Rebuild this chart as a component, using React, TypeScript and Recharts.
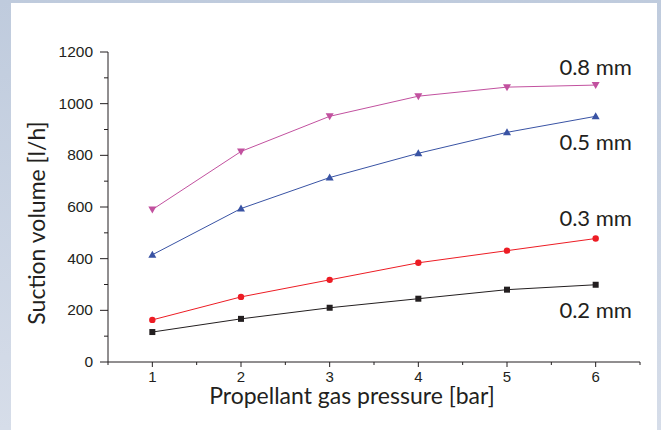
import React from "react";
import { LineChart, Line, XAxis, YAxis, Label, LabelList } from "recharts";

// 読み取り値
const pressures = [1, 2, 3, 4, 5, 6];
const s02 = [116, 167, 210, 245, 280, 299];
const s03 = [163, 252, 318, 384, 431, 478];
const s05 = [415, 594, 714, 808, 889, 951];
const s08 = [590, 815, 951, 1029, 1064, 1072];

const xTicks = [0.5, 1, 1.5, 2, 2.5, 3, 3.5, 4, 4.5, 5, 5.5, 6, 6.5];
const yTicks = [0, 100, 200, 300, 400, 500, 600, 700, 800, 900, 1000, 1100, 1200];

const data = pressures.map((p, i) => ({
  p,
  s02: s02[i],
  s03: s03[i],
  s05: s05[i],
  s08: s08[i],
}));

const INK = "#231f20";
const TICK_FONT = "'Liberation Sans', Arial, sans-serif";
const TITLE_FONT = "Lato, 'Open Sans', sans-serif";

// x軸の目盛り (整数だけラベル)
const XTick = (props: any) => {
  const { x, y, payload } = props;
  const major = Number.isInteger(payload.value);
  return (
    <g>
      <line x1={x} x2={x} y1={y} y2={y + (major ? 5 : 3)} stroke={INK} strokeWidth={1} />
      {major && (
        <text x={x} y={y + 20} textAnchor="middle" fontSize={15} fill={INK} fontFamily={TICK_FONT}>
          {payload.value}
        </text>
      )}
    </g>
  );
};

// y軸の目盛り (200ごとにラベル)
const YTick = (props: any) => {
  const { x, y, payload } = props;
  const major = payload.value % 200 === 0;
  return (
    <g>
      <line x1={x} x2={x - (major ? 8 : 4)} y1={y} y2={y} stroke={INK} strokeWidth={1} />
      {major && (
        <text x={x - 15} y={y + 5} textAnchor="end" fontSize={15.5} fill={INK} fontFamily={TICK_FONT}>
          {payload.value}
        </text>
      )}
    </g>
  );
};

const square = (color: string) => (p: any) => (
  <rect key={p.index} x={p.cx - 3} y={p.cy - 3} width={6} height={6} fill={color} />
);
const circle = (color: string) => (p: any) => (
  <circle key={p.index} cx={p.cx} cy={p.cy} r={3.2} fill={color} />
);
const triUp = (color: string) => (p: any) => (
  <path key={p.index} d={`M${p.cx},${p.cy - 4} L${p.cx + 4},${p.cy + 3} L${p.cx - 4},${p.cy + 3} Z`} fill={color} />
);
const triDown = (color: string) => (p: any) => (
  <path key={p.index} d={`M${p.cx},${p.cy + 4} L${p.cx + 4},${p.cy - 3} L${p.cx - 4},${p.cy - 3} Z`} fill={color} />
);

// 最後の点の上下にシリーズ名
const endLabel = (text: string, dy: number) => (p: any) => {
  if (p.index !== pressures.length - 1) return null;
  return (
    <text x={p.x} y={p.y + dy} textAnchor="middle" fontSize={22} fill={INK} fontFamily={TITLE_FONT}>
      {text}
    </text>
  );
};

export default function App() {
  return (
    <div
      style={{
        position: "fixed",
        left: 0,
        top: 0,
        width: 661,
        height: 430,
        background: "linear-gradient(#bfcbdd, #d6dde9)",
      }}
    >
      <div
        style={{
          position: "absolute",
          left: 11,
          top: 3,
          width: 646,
          height: 427,
          background: "#fff",
        }}
      >
        <LineChart
          width={646}
          height={427}
          data={data}
          margin={{ top: 49, right: 17, left: 0, bottom: 0 }}
        >
          <XAxis
            dataKey="p"
            type="number"
            domain={[0.5, 6.5]}
            ticks={xTicks}
            interval={0}
            height={68}
            tick={<XTick />}
            tickLine={false}
            tickSize={0}
            tickMargin={0}
            axisLine={{ stroke: INK }}
          >
            <Label
              content={(p: any) => {
                const vb = p.viewBox;
                return (
                  <text
                    x={vb.x + vb.width / 2 - 22}
                    y={vb.y + 42}
                    textAnchor="middle"
                    fontSize={23}
                    fill={INK}
                    fontFamily={TITLE_FONT}
                  >
                    Propellant gas pressure [bar]
                  </text>
                );
              }}
            />
          </XAxis>
          <YAxis
            type="number"
            domain={[0, 1200]}
            ticks={yTicks}
            interval={0}
            width={97}
            tick={<YTick />}
            tickLine={false}
            tickSize={0}
            tickMargin={0}
            axisLine={{ stroke: INK }}
          >
            <Label
              content={(p: any) => {
                const vb = p.viewBox;
                const cx = 34;
                const cy = vb.y + vb.height / 2 + 16;
                return (
                  <text
                    x={cx}
                    y={cy}
                    transform={`rotate(-90 ${cx} ${cy})`}
                    textAnchor="middle"
                    fontSize={23}
                    fill={INK}
                    fontFamily={TITLE_FONT}
                  >
                    Suction volume [l/h]
                  </text>
                );
              }}
            />
          </YAxis>
          <Line dataKey="s02" stroke={INK} strokeWidth={1} dot={square(INK)} isAnimationActive={false}>
            <LabelList dataKey="s02" content={endLabel("0.2 mm", 33)} />
          </Line>
          <Line dataKey="s03" stroke="#ed1c24" strokeWidth={1} dot={circle("#ed1c24")} isAnimationActive={false}>
            <LabelList dataKey="s03" content={endLabel("0.3 mm", -13)} />
          </Line>
          <Line dataKey="s05" stroke="#3953a4" strokeWidth={1} dot={triUp("#3953a4")} isAnimationActive={false}>
            <LabelList dataKey="s05" content={endLabel("0.5 mm", 34)} />
          </Line>
          <Line dataKey="s08" stroke="#c2519f" strokeWidth={1} dot={triDown("#c2519f")} isAnimationActive={false}>
            <LabelList dataKey="s08" content={endLabel("0.8 mm", -10)} />
          </Line>
        </LineChart>
      </div>
    </div>
  );
}
